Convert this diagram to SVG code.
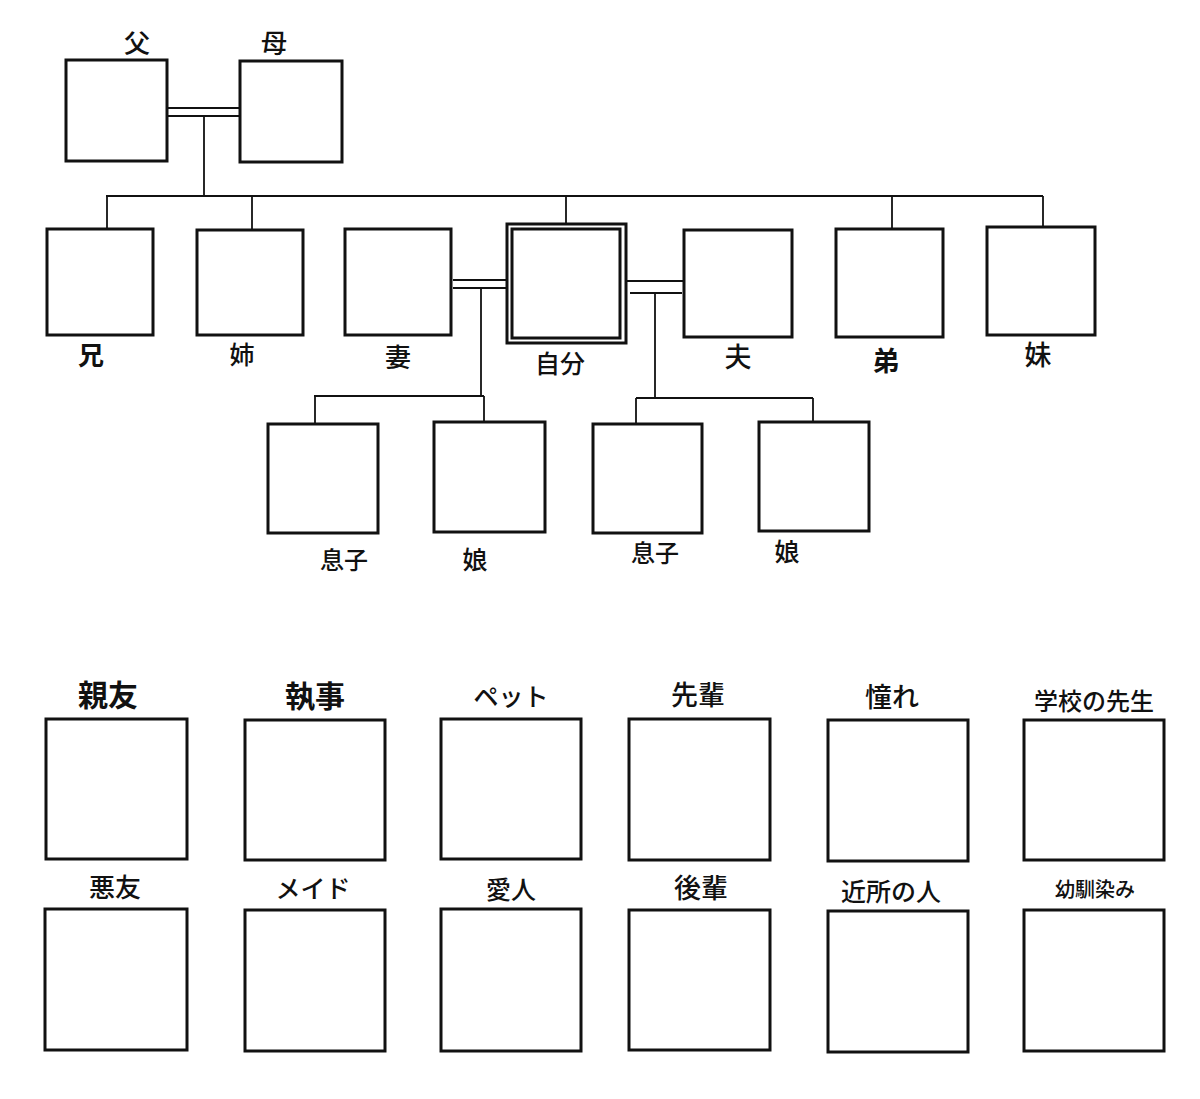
<svg xmlns="http://www.w3.org/2000/svg" width="1200" height="1099" viewBox="0 0 1200 1099">
<style>
.box{fill:#fff;stroke:#111;stroke-width:3}
.ln{stroke:#111;stroke-width:1.8;fill:none}
.t{font-family:"Noto Sans CJK JP","Noto Sans",sans-serif;fill:#111;text-anchor:middle;dominant-baseline:central;font-weight:500}
.b{font-weight:700}
</style>
<rect width="1200" height="1099" fill="#fff"/>
<g id="connectors">
<line class="ln" x1="168" y1="108" x2="240" y2="108"/>
<line class="ln" x1="168" y1="116" x2="240" y2="116"/>
<line class="ln" x1="204" y1="116" x2="204" y2="196"/>
<line class="ln" x1="106" y1="196" x2="1043" y2="196"/>
<line class="ln" x1="107" y1="196" x2="107" y2="229"/>
<line class="ln" x1="252" y1="196" x2="252" y2="230"/>
<line class="ln" x1="566" y1="196" x2="566" y2="224"/>
<line class="ln" x1="892" y1="196" x2="892" y2="229"/>
<line class="ln" x1="1043" y1="196" x2="1043" y2="227"/>
<line class="ln" x1="453" y1="280" x2="507" y2="280"/>
<line class="ln" x1="453" y1="288" x2="507" y2="288"/>
<line class="ln" x1="481" y1="288" x2="481" y2="396"/>
<line class="ln" x1="314" y1="396" x2="484" y2="396"/>
<line class="ln" x1="315" y1="396" x2="315" y2="424"/>
<line class="ln" x1="484" y1="396" x2="484" y2="422"/>
<line class="ln" x1="627" y1="281" x2="684" y2="281"/>
<line class="ln" x1="630" y1="293" x2="682" y2="293"/>
<line class="ln" x1="655" y1="293" x2="655" y2="398"/>
<line class="ln" x1="636" y1="398" x2="813" y2="398"/>
<line class="ln" x1="636" y1="398" x2="636" y2="424"/>
<line class="ln" x1="813" y1="398" x2="813" y2="422"/>
</g>
<g id="father"><rect class="box" x="66" y="60" width="101" height="101"/><text class="t" x="137" y="41" font-size="26">父</text></g>
<g id="mother"><rect class="box" x="240" y="61" width="102" height="101"/><text class="t" x="274" y="41" font-size="26">母</text></g>
<g id="ani"><rect class="box" x="47" y="229" width="106" height="106"/><text class="t b" x="91" y="353" font-size="26">兄</text></g>
<g id="ane"><rect class="box" x="197" y="230" width="106" height="105"/><text class="t" x="242" y="353" font-size="25">姉</text></g>
<g id="tsuma"><rect class="box" x="345" y="229" width="106" height="106"/><text class="t" x="398" y="355" font-size="26">妻</text></g>
<g id="jibun"><rect class="box" x="507" y="224" width="119" height="119"/><rect class="box" x="512" y="229" width="108" height="109"/><text class="t" x="560" y="362" font-size="25">自分</text></g>
<g id="otto"><rect class="box" x="684" y="230" width="108" height="107"/><text class="t" x="738" y="355" font-size="27">夫</text></g>
<g id="otouto"><rect class="box" x="836" y="229" width="107" height="108"/><text class="t b" x="886" y="359" font-size="27">弟</text></g>
<g id="imouto"><rect class="box" x="987" y="227" width="108" height="108"/><text class="t" x="1038" y="353" font-size="27">妹</text></g>
<g id="musuko1"><rect class="box" x="268" y="424" width="110" height="109"/><text class="t" x="344" y="558" font-size="24">息子</text></g>
<g id="musume1"><rect class="box" x="434" y="422" width="111" height="110"/><text class="t" x="475" y="558" font-size="25">娘</text></g>
<g id="musuko2"><rect class="box" x="593" y="424" width="109" height="109"/><text class="t" x="655" y="551" font-size="24">息子</text></g>
<g id="musume2"><rect class="box" x="759" y="422" width="110" height="109"/><text class="t" x="787" y="550" font-size="25">娘</text></g>
<g id="shinyu"><rect class="box" x="46" y="719" width="141" height="140"/><text class="t b" x="108" y="693" font-size="30">親友</text></g>
<g id="shitsuji"><rect class="box" x="245" y="720" width="140" height="140"/><text class="t b" x="315" y="694" font-size="30">執事</text></g>
<g id="pet"><rect class="box" x="441" y="719" width="140" height="140"/><text class="t" x="511" y="695" font-size="25">ペット</text></g>
<g id="senpai"><rect class="box" x="629" y="719" width="141" height="141"/><text class="t" x="698" y="693" font-size="27">先輩</text></g>
<g id="akogare"><rect class="box" x="828" y="720" width="140" height="141"/><text class="t" x="892" y="695" font-size="27">憧れ</text></g>
<g id="sensei"><rect class="box" x="1024" y="720" width="140" height="140"/><text class="t" x="1094" y="699" font-size="24">学校の先生</text></g>
<g id="akuyu"><rect class="box" x="45" y="909" width="142" height="141"/><text class="t" x="115" y="885" font-size="26">悪友</text></g>
<g id="maid"><rect class="box" x="245" y="910" width="140" height="141"/><text class="t" x="313" y="887" font-size="25">メイド</text></g>
<g id="aijin"><rect class="box" x="441" y="909" width="140" height="142"/><text class="t" x="511" y="888" font-size="25">愛人</text></g>
<g id="kouhai"><rect class="box" x="629" y="910" width="141" height="140"/><text class="t" x="701" y="886" font-size="27">後輩</text></g>
<g id="kinjo"><rect class="box" x="828" y="911" width="140" height="141"/><text class="t" x="891" y="890" font-size="25">近所の人</text></g>
<g id="osananajimi"><rect class="box" x="1024" y="910" width="140" height="141"/><text class="t" x="1095" y="888" font-size="20">幼馴染み</text></g>
</svg>
